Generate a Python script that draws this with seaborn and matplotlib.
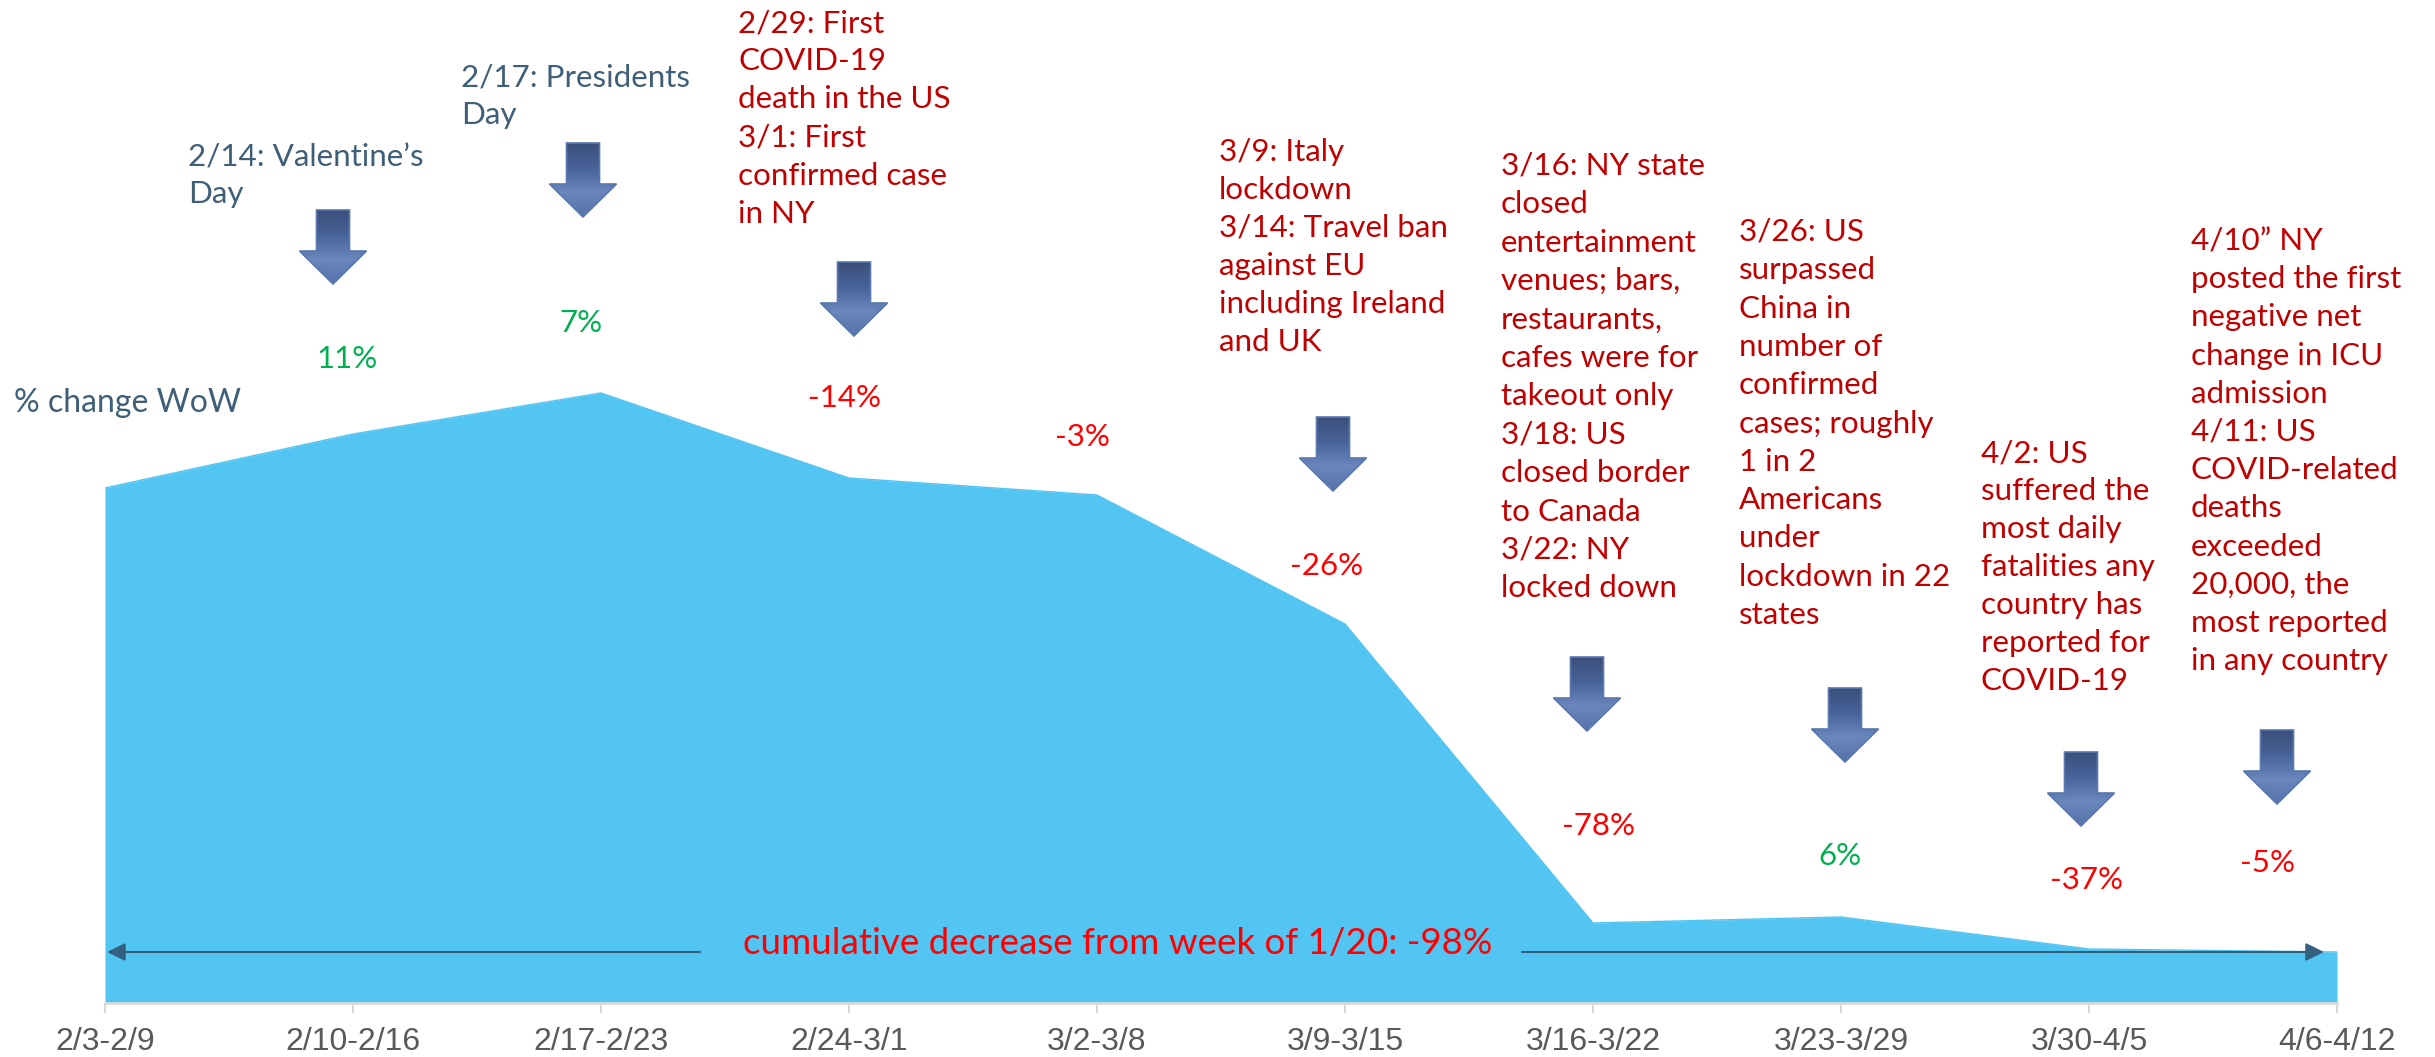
import numpy as np
import pandas as pd
import seaborn as sns
import matplotlib.pyplot as plt
from matplotlib.patches import Polygon
from matplotlib.colors import LinearSegmentedColormap

# Weekly level (no y axis in the original)
weeks = ['2/3-2/9', '2/10-2/16', '2/17-2/23', '2/24-3/1', '3/2-3/8',
         '3/9-3/15', '3/16-3/22', '3/23-3/29', '3/30-4/5', '4/6-4/12']
level = [515, 569, 610, 525, 508, 379, 80, 86, 54, 51]

pct_labels = ['11%', '7%', '-14%', '-3%', '-26%', '-78%', '6%', '-37%', '-5%']
pct_x = [347, 581, 845, 1082, 1327, 1598, 1840, 2087, 2268]
pct_y = [368, 332, 407, 446, 575, 835, 865, 889, 872]
pct_colors = ['#00B050', '#00B050', '#FF0000', '#FF0000', '#FF0000', '#FF0000', '#00B050', '#FF0000', '#FF0000']

notes = [
    ["2/14: Valentine\u2019s", "Day"],
    ["2/17: Presidents", "Day"],
    ["2/29: First", "COVID-19", "death in the US", "3/1: First", "confirmed case", "in NY"],
    ["3/9: Italy", "lockdown", "3/14: Travel ban", "against EU", "including Ireland", "and UK"],
    ["3/16: NY state", "closed", "entertainment", "venues; bars,", "restaurants,", "cafes were for",
     "takeout only", "3/18: US", "closed border", "to Canada", "3/22: NY", "locked down"],
    ["3/26: US", "surpassed", "China in", "number of", "confirmed", "cases; roughly",
     "1 in 2", "Americans", "under", "lockdown in 22", "states"],
    ["4/2: US", "suffered the", "most daily", "fatalities any", "country has", "reported for", "COVID-19"],
    ["4/10\u201d NY", "posted the first", "negative net", "change in ICU", "admission", "4/11: US",
     "COVID-related", "deaths", "exceeded", "20,000, the", "most reported", "in any country"],
]
note_x = [188, 461, 738, 1219, 1501, 1739, 1981, 2191]
note_y = [166, 87, 32, 161, 175, 241, 462, 250]
note_pitch = [37, 37, 38.2, 38, 38.4, 38.3, 38, 38.2]
note_colors = ['#3F5F78', '#3F5F78'] + ['#C00000'] * 6

arrow_x = [333, 583, 854, 1333, 1587, 1845, 2081, 2277]
arrow_top = [210, 143, 262, 417, 657, 688, 752, 730]

W, H = 2435, 1057
base_y = 1003
sans = 'Lato'

sns.set_theme(style='white')
fig = plt.figure(figsize=(W / 100, H / 100), dpi=100, facecolor='white')

# main area chart, placed so one data unit is one pixel high
ax = fig.add_axes([105 / W, (H - base_y) / H, (2337 - 105) / W, base_y / H])
df = pd.DataFrame({'pos': np.arange(len(weeks)), 'level': level})
sns.lineplot(data=df, x='pos', y='level', color='#52C5F2', linewidth=1, ax=ax)
ax.fill_between(df['pos'], df['level'], 0, color='#52C5F2', linewidth=0)
ax.set_xlim(0, len(weeks) - 1)
ax.set_ylim(0, base_y)
ax.set_xlabel('')
ax.set_ylabel('')
ax.set_yticks([])
ax.set_xticks(df['pos'])
ax.set_xticklabels(weeks, fontfamily='Liberation Sans', fontsize=23, color='#595959')
ax.tick_params(axis='x', bottom=True, length=7, width=1.5, color='#D9D9D9', pad=10)
ax.patch.set_alpha(0)
for side in ['top', 'left', 'right']:
    ax.spines[side].set_visible(False)
ax.spines['bottom'].set_color('#D9D9D9')
ax.spines['bottom'].set_linewidth(2)

# overlay in picture pixels for the call-outs
ov = fig.add_axes([0, 0, 1, 1])
ov.axis('off')
ov.patch.set_alpha(0)

arrow_cmap = LinearSegmentedColormap.from_list('arrow', ['#3B4F7A', '#48639A', '#6A87BD', '#5573AB'])
grad = np.linspace(0, 1, 64).reshape(-1, 1)
for cx, top in zip(arrow_x, arrow_top):
    pts = [(cx - 16.5, top), (cx + 16.5, top), (cx + 16.5, top + 41), (cx + 33.5, top + 41),
           (cx, top + 74), (cx - 33.5, top + 41), (cx - 16.5, top + 41)]
    im = ov.imshow(grad, cmap=arrow_cmap, extent=[cx - 34, cx + 34, top + 74, top], aspect='auto', zorder=3)
    clip = Polygon(pts, closed=True, transform=ov.transData, facecolor='none')
    im.set_clip_path(clip)
    ov.add_patch(Polygon(pts, closed=True, fill=False, edgecolor='#5A78AE', linewidth=1.2, zorder=4))

ov.set_xlim(0, W)
ov.set_ylim(H, 0)

for lines, x, y, pitch, col in zip(notes, note_x, note_y, note_pitch, note_colors):
    for i, line in enumerate(lines):
        ov.text(x, y + i * pitch, line, color=col, fontsize=22.6, fontfamily=sans, va='baseline', ha='left')

for lab, x, y, col in zip(pct_labels, pct_x, pct_y, pct_colors):
    ov.text(x, y, lab, color=col, fontsize=22.5, fontfamily=sans, va='baseline', ha='center')

ov.text(14, 412, '% change WoW', color='#3F5F78', fontsize=23, fontfamily=sans, va='baseline', ha='left')
ov.text(743, 954, 'cumulative decrease from week of 1/20: -98%', color='#FF0000', fontsize=26.5,
        fontfamily=sans, va='baseline', ha='left')

# cumulative span arrows either side of the text
for tail, tip in [(700, 107), (1522, 2324)]:
    ov.annotate('', xy=(tip, 952), xytext=(tail, 952),
                arrowprops=dict(arrowstyle='-|>,head_length=0.85,head_width=0.42', color='#34607F',
                                lw=1.5, shrinkA=0, shrinkB=0, mutation_scale=13))

fig.savefig('out.png', dpi=100)
